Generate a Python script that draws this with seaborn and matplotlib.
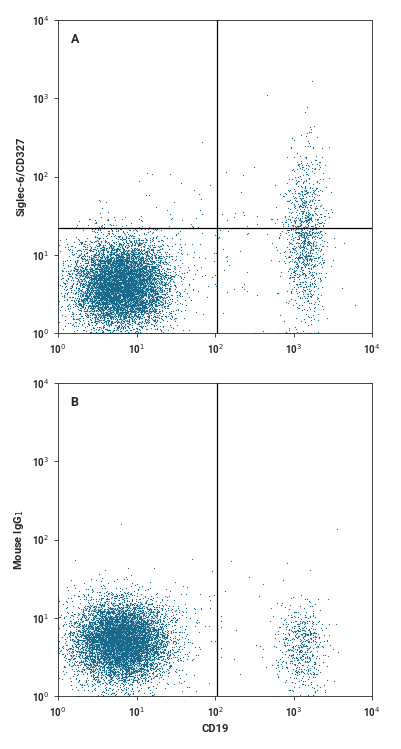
import numpy as np
import pandas as pd
import matplotlib
matplotlib.use("Agg")
import matplotlib.pyplot as plt
import seaborn as sns

sns.set_style("ticks")
plt.rcParams['font.family'] = ['Liberation Sans Narrow', 'Roboto', 'DejaVu Sans']

# cluster descriptions: (log10 x centre, log10 y centre, x sd, y sd, count)
clusters_A = [(0.80, 0.62, 0.30, 0.28, 8000), (3.15, 1.2, 0.13, 0.55, 1100), (1.5, 1.0, 0.8, 0.5, 200)]
clusters_B = [(0.80, 0.70, 0.30, 0.26, 8000), (3.10, 0.62, 0.15, 0.28, 550), (1.5, 1.0, 0.8, 0.5, 120)]
x_gate = 107
y_gate_A = 22
tick_vals = [1, 10, 100, 1000, 10000]
tick_labels = ["10$^0$", "10$^1$", "10$^2$", "10$^3$", "10$^4$"]

rng = np.random.default_rng(3)
def make(clusters):
    xs, ys = [], []
    for cx, cy, sx, sy, n in clusters:
        xs.append(rng.normal(cx, sx, n)); ys.append(rng.normal(cy, sy, n))
    x = np.clip(np.concatenate(xs), 0.0, 3.98); y = np.clip(np.concatenate(ys), 0.0, 3.98)
    return pd.DataFrame({"x": 10**x, "y": 10**y})

fig = plt.figure(figsize=(4.01, 7.49), dpi=100)
axA = fig.add_axes([58/401, 1-333/749, 314/401, 313/749])
axB = fig.add_axes([58/401, 1-696/749, 314/401, 313/749])
color = "#176a8c"
for ax, cl, lab, yl in [(axA, clusters_A, "A", "Siglec-6/CD327"), (axB, clusters_B, "B", "Mouse IgG$_1$")]:
    df = make(cl)
    sns.scatterplot(data=df, x="x", y="y", ax=ax, s=0.8, marker="o", color=color, linewidth=0, legend=False)
    ax.set_xscale("log"); ax.set_yscale("log")
    ax.set_xlim(1, 10000); ax.set_ylim(1, 10000)
    ax.set_xticks(tick_vals, tick_labels, fontsize=7, fontweight="bold")
    ax.set_yticks(tick_vals, tick_labels, fontsize=7, fontweight="bold")
    ax.minorticks_off()
    ax.tick_params(length=3, width=0.6)
    ax.axvline(x_gate, color="black", lw=0.9)
    ax.text(0.04, 0.96, lab, transform=ax.transAxes, fontsize=9, fontweight="bold", va="top")
    ax.set_ylabel(yl, fontsize=8, fontweight="bold")
    ax.set_xlabel("")
    for s in ax.spines.values():
        s.set_visible(True); s.set_linewidth(0.6)
axA.axhline(y_gate_A, color="black", lw=0.9)
axB.set_xlabel("CD19", fontsize=8, fontweight="bold")
fig.savefig("out.png", dpi=100)
